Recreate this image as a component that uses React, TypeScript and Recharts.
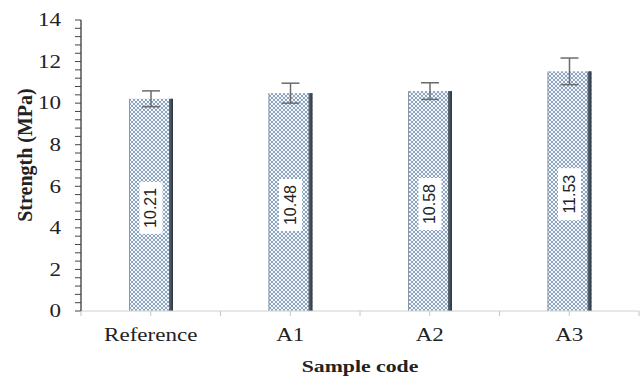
import { BarChart, Bar, XAxis, YAxis, ErrorBar, LabelList } from "recharts";

const CATEGORIES = ["Reference", "A1", "A2", "A3"];
const STRENGTH = [10.21, 10.48, 10.58, 11.53];
const ERRORS = [0.38, 0.48, 0.4, 0.64];
const Y_LABELS = [0, 2, 4, 6, 8, 10, 12, 14];
const Y_MINOR_STEP = 0.4;

const data = CATEGORIES.map((name, i) => ({ name, value: STRENGTH[i], err: ERRORS[i] }));

// one tick every 0.4, labels only on the even numbers
const yTicks: number[] = [];
for (let i = 0; i <= 35; i++) yTicks.push(Math.round(i * Y_MINOR_STEP * 10) / 10);

const SERIF = "'Liberation Serif', 'Times New Roman', serif";
const STRETCH = 1.28; // the source figure is wider than its fonts
const TICK_SIZE = 5;
const TICK_MARGIN = 12;

function CategoryTick(props: any) {
  const { x, y, payload, index, width } = props;
  const half = payload?.offset || width / CATEGORIES.length / 2;
  const axisY = y - TICK_SIZE - TICK_MARGIN;
  const last = index === CATEGORIES.length - 1;
  return (
    <g>
      <line x1={x} x2={x} y1={axisY} y2={axisY + TICK_SIZE} stroke="#c4c4c4" />
      <line x1={x - half} x2={x - half} y1={axisY} y2={axisY + TICK_SIZE} stroke="#c4c4c4" />
      {last && <line x1={x + half} x2={x + half} y1={axisY} y2={axisY + TICK_SIZE} stroke="#c4c4c4" />}
      <text
        transform={`translate(${x} ${y}) scale(${STRETCH} 1)`}
        dy="0.71em"
        textAnchor="middle"
        fontFamily={SERIF}
        fontSize={18}
        fill="#222"
      >
        {payload.value}
      </text>
    </g>
  );
}

function ValueTick(props: any) {
  const { x, y, payload } = props;
  if (!Y_LABELS.includes(payload.value)) return <g />;
  return (
    <text
      transform={`translate(${x} ${y}) scale(${STRETCH} 1)`}
      dy="0.35em"
      textAnchor="end"
      fontFamily={SERIF}
      fontSize={18}
      fill="#222"
    >
      {payload.value}
    </text>
  );
}

function HatchBar(props: any) {
  const { x, y, width, height } = props;
  return (
    <g>
      <rect x={x} y={y} width={width} height={height} fill="url(#dots)" />
      <rect x={x} y={y} width={1} height={height} fill="#8797a8" />
      <rect x={x + width - 4} y={y} width={4} height={height} fill="url(#edge)" />
    </g>
  );
}

function ValueBox(props: any) {
  const { x, y, width, height, value } = props;
  const cx = x + width / 2;
  const cy = y + height / 2 + 3;
  return (
    <g>
      <rect x={cx - 11.5} y={cy - 26} width={23} height={52} fill="#fff" />
      <text
        x={cx}
        y={cy}
        transform={`rotate(-90 ${cx} ${cy})`}
        textAnchor="middle"
        dominantBaseline="central"
        fontFamily="'Liberation Sans', Arial, sans-serif"
        fontSize={16}
        fill="#222"
      >
        {value.toFixed(2)}
      </text>
    </g>
  );
}

export default function App() {
  return (
    <div style={{ position: "fixed", left: 0, top: 0, background: "#fff" }}>
      <BarChart width={641} height={378} data={data} margin={{ top: 20, right: 2, bottom: 0, left: 0 }}>
        <defs>
          <pattern id="dots" width={4} height={4} patternUnits="userSpaceOnUse">
            <rect width={4} height={4} fill="#6584a8" />
            <circle cx={0} cy={0} r={1.35} fill="#f4f8fc" />
            <circle cx={4} cy={0} r={1.35} fill="#f4f8fc" />
            <circle cx={0} cy={4} r={1.35} fill="#f4f8fc" />
            <circle cx={4} cy={4} r={1.35} fill="#f4f8fc" />
            <circle cx={2} cy={2} r={1.35} fill="#f4f8fc" />
          </pattern>
          <linearGradient id="edge" x1="0" x2="1" y1="0" y2="0">
            <stop offset="0%" stopColor="#5b6a79" />
            <stop offset="100%" stopColor="#2b333b" />
          </linearGradient>
        </defs>
        <XAxis
          dataKey="name"
          xAxisId="cat"
          height={67}
          axisLine={{ stroke: "#d0d0d0" }}
          tickLine={false}
          tickSize={TICK_SIZE}
          tickMargin={TICK_MARGIN}
          tick={<CategoryTick />}
          interval={0}
          label={() => (
            <text
              transform={`translate(360 372) scale(${STRETCH} 1)`}
              textAnchor="middle"
              fontFamily={SERIF}
              fontSize={17}
              fontWeight="bold"
              fill="#222"
            >
              Sample code
            </text>
          )}
        />
        <XAxis xAxisId="top" orientation="top" height={0} tick={false} tickLine={false} axisLine={{ stroke: "#6a6a6a", strokeWidth: 1.5 }} />
        <YAxis
          width={81}
          domain={[0, 14]}
          ticks={yTicks}
          interval={0}
          allowDataOverflow
          axisLine={{ stroke: "#555", strokeWidth: 1.5 }}
          tickLine={{ stroke: "#444" }}
          tickSize={6}
          tickMargin={14}
          tick={<ValueTick />}
          label={() => (
            <text
              x={25}
              y={155}
              transform="rotate(-90 25 155)"
              textAnchor="middle"
              dominantBaseline="central"
              fontFamily={SERIF}
              fontSize={20}
              fontWeight="bold"
              fill="#222"
            >
              Strength (MPa)
            </text>
          )}
        />
        <YAxis yAxisId="right" orientation="right" width={0} domain={[0, 14]} tick={false} tickLine={false} axisLine={{ stroke: "#6a6a6a", strokeWidth: 1.5 }} />
        <Bar dataKey="value" xAxisId="cat" barSize={44} shape={<HatchBar />} isAnimationActive={false}>
          <ErrorBar dataKey="err" width={9} stroke="#6b6b6b" strokeWidth={1.5} direction="y" />
          <LabelList dataKey="value" content={<ValueBox />} />
        </Bar>
      </BarChart>
    </div>
  );
}
